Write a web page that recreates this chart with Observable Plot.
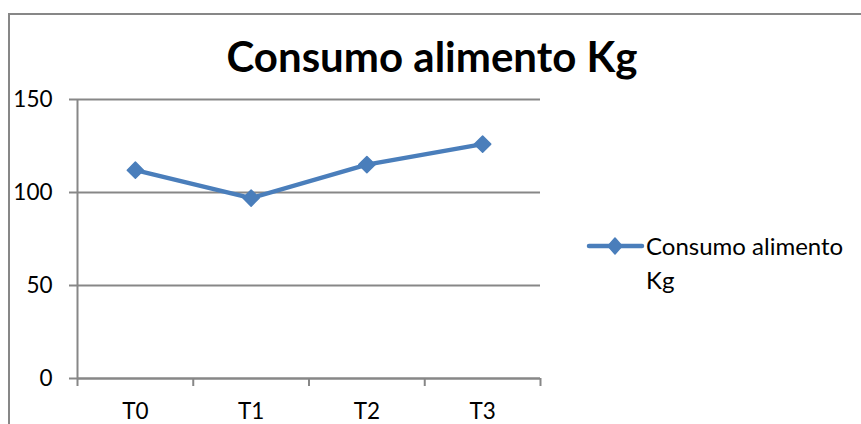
<!DOCTYPE html>
<html>
<head>
<meta charset="utf-8">
<script src="https://cdn.jsdelivr.net/npm/d3@7"></script>
<script src="https://cdn.jsdelivr.net/npm/@observablehq/plot@0.6"></script>
<style>
  html, body { margin: 0; padding: 0; background: #fff; overflow: hidden; }
  #wrap { position: relative; width: 861px; height: 424px; }
  #wrap svg { position: absolute; left: 0; top: 0; }
</style>
</head>
<body>
<div id="wrap"></div>
<script>
// ---- data ----
const categories = ["T0", "T1", "T2", "T3"];
const values = [112, 97, 115, 126];
const yTicks = [0, 50, 100, 150];
const seriesName = "Consumo alimento Kg";
const titleText = "Consumo alimento Kg";

const blue = "#4a7ebb";
const gray = "#878787";
const font = "Lato, 'Open Sans', sans-serif";

const data = categories.map((c, i) => ({i, cat: c, v: values[i]}));
const boundaries = d3.range(categories.length + 1).map(k => k - 0.5);

const chart = Plot.plot({
  width: 861,
  height: 424,
  marginLeft: 77,
  marginRight: 321,
  marginTop: 99,
  marginBottom: 46,
  style: {fontFamily: font, fontSize: "22px", color: "#000", background: "transparent"},
  x: {type: "linear", domain: [-0.5, categories.length - 0.5]},
  y: {type: "linear", domain: [0, 150]},
  marks: [
    Plot.gridY(yTicks, {stroke: gray, strokeOpacity: 1, strokeWidth: 2}),
    Plot.axisY(yTicks, {tickSize: 8, tickPadding: 17, stroke: gray, strokeWidth: 2, fill: "#000", label: null, fontSize: 22.5}),
    Plot.ruleX([-0.5], {stroke: gray, strokeWidth: 2}),
    Plot.ruleY([0], {stroke: gray, strokeWidth: 2}),
    Plot.axisX(boundaries, {tickSize: 8, tickFormat: () => "", stroke: gray, strokeWidth: 2, label: null}),
    Plot.axisX(d3.range(categories.length), {tickSize: 0, tickPadding: 25, tickFormat: i => categories[i], fill: "#000", label: null, fontSize: 22.5}),
    Plot.line(data, {x: "i", y: "v", stroke: blue, strokeWidth: 4.5, strokeLinejoin: "round", strokeLinecap: "round"}),
    Plot.dot(data, {x: "i", y: "v", symbol: "diamond2", r: 7.3, fill: blue, stroke: blue, strokeWidth: 1.5, strokeLinejoin: "round"})
  ]
});
document.getElementById("wrap").appendChild(chart);

// ---- overlay: border, title, legend ----
const ov = d3.select("#wrap").append("svg")
  .attr("width", 861).attr("height", 424)
  .style("pointer-events", "none");

ov.append("rect")
  .attr("x", 9).attr("y", 14).attr("width", 900).attr("height", 500)
  .attr("fill", "none").attr("stroke", gray).attr("stroke-width", 2);

ov.append("text")
  .attr("x", 432).attr("y", 72)
  .attr("text-anchor", "middle")
  .style("font-family", font).style("font-weight", "bold").style("font-size", "42px")
  .attr("fill", "#000")
  .text(titleText);

const lg = ov.append("g");
lg.append("line").attr("x1", 589).attr("x2", 642).attr("y1", 246).attr("y2", 246)
  .attr("stroke", blue).attr("stroke-width", 4.5).attr("stroke-linecap", "round");
lg.append("path").attr("d", "M615,238L622,246L615,254L608,246Z")
  .attr("fill", blue).attr("stroke", blue).attr("stroke-width", 1.5).attr("stroke-linejoin", "round");
const words = seriesName.split(" ");
const lt = lg.append("text")
  .style("font-family", font).style("font-size", "24px").attr("fill", "#000");
lt.append("tspan").attr("x", 646).attr("y", 255).text(words.slice(0, 2).join(" "));
lt.append("tspan").attr("x", 646).attr("y", 289).text(words.slice(2).join(" "));
</script>
</body>
</html>
